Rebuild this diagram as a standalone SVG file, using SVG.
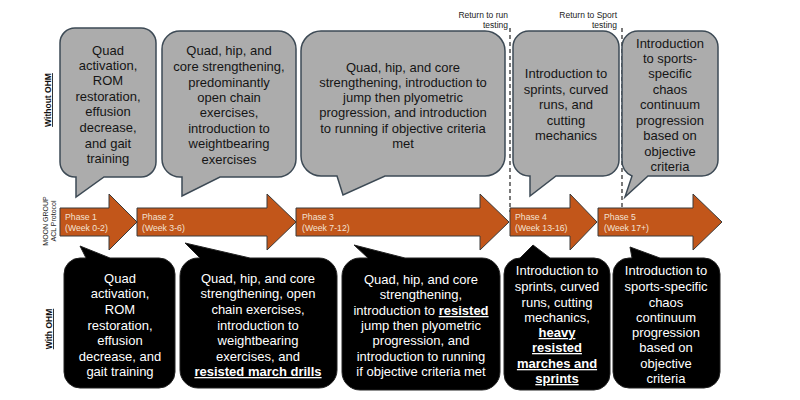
<svg xmlns="http://www.w3.org/2000/svg" width="800" height="400" viewBox="0 0 800 400">
<style>
.top{fill:#ACACAC;stroke:#3D4A55;stroke-width:1.5}
.bot{fill:#000;stroke:#222;stroke-width:1}
.arr{fill:#C2561A;stroke:#3A3A3A;stroke-width:1}
.tt{font-family:"Liberation Sans",Arial,sans-serif;font-size:13px;fill:#151515;text-anchor:middle}
.bt{font-family:"Liberation Sans",Arial,sans-serif;font-size:13px;fill:#fff;text-anchor:middle}
.b{font-weight:bold;text-decoration:underline}
.pt{font-family:"Liberation Sans",Arial,sans-serif;font-size:8.7px;fill:#F4E2D4}
.lab{font-family:"Liberation Sans",Arial,sans-serif;font-size:8.5px;fill:#222}
.side{font-family:"Liberation Sans",Arial,sans-serif;font-size:8.5px;font-weight:bold;text-decoration:underline;fill:#111;text-anchor:middle}
.moon{font-family:"Liberation Sans",Arial,sans-serif;font-size:7px;fill:#222;text-anchor:middle}
.dash{stroke:#333;stroke-width:1.3;stroke-dasharray:4 3;fill:none}
</style>
<rect width="800" height="400" fill="#fff"/>

<g id="side-labels">
<text class="side" transform="translate(51,100) rotate(-90)">Without OHM</text>
<text class="moon" transform="translate(48,221) rotate(-90)">MOON GROUP</text>
<text class="moon" transform="translate(56,221) rotate(-90)">ACL Protocol</text>
<text class="side" transform="translate(52,329) rotate(-90)">With OHM</text>
</g>

<g id="connectors">
<line class="dash" x1="510" y1="28" x2="510" y2="212"/>
<line class="dash" x1="622" y1="28" x2="622" y2="208"/>
<text class="lab" x="508" y="18" text-anchor="end">Return to run</text>
<text class="lab" x="508" y="28" text-anchor="end">testing</text>
<text class="lab" x="617" y="18" text-anchor="end">Return to Sport</text>
<text class="lab" x="617" y="28" text-anchor="end">testing</text>
</g>

<g id="top1">
<path class="top" d="M75,28 H141 A15,15 0 0 1 156,43 V162 A15,15 0 0 1 141,177 H104 L76,197 V177 H75 A15,15 0 0 1 60,162 V43 A15,15 0 0 1 75,28 Z"/>
<text class="tt"><tspan x="108" y="55">Quad</tspan><tspan x="108" y="70">activation,</tspan><tspan x="108" y="85">ROM</tspan><tspan x="108" y="101">restoration,</tspan><tspan x="108" y="116">effusion</tspan><tspan x="108" y="132">decrease,</tspan><tspan x="108" y="148">and gait</tspan><tspan x="108" y="163">training</tspan></text>
</g>
<g id="top2">
<path class="top" d="M180,31 H278 A18,18 0 0 1 296,49 V159 A18,18 0 0 1 278,177 H220 L182,196 V177 H180 A18,18 0 0 1 162,159 V49 A18,18 0 0 1 180,31 Z"/>
<text class="tt"><tspan x="229" y="55">Quad, hip, and</tspan><tspan x="229" y="71">core strengthening,</tspan><tspan x="229" y="87">predominantly</tspan><tspan x="229" y="102">open chain</tspan><tspan x="229" y="117">exercises,</tspan><tspan x="229" y="133">introduction to</tspan><tspan x="229" y="148">weightbearing</tspan><tspan x="229" y="164">exercises</tspan></text>
</g>
<g id="top3">
<path class="top" d="M321,31 H485 A20,20 0 0 1 505,51 V156 A20,20 0 0 1 485,176 H385 L343,195 L337,176 H321 A20,20 0 0 1 301,156 V51 A20,20 0 0 1 321,31 Z"/>
<text class="tt"><tspan x="403" y="72">Quad, hip, and core</tspan><tspan x="403" y="87">strengthening, introduction to</tspan><tspan x="403" y="102">jump then plyometric</tspan><tspan x="403" y="117">progression, and introduction</tspan><tspan x="403" y="133">to running if objective criteria</tspan><tspan x="403" y="148">met</tspan></text>
</g>
<g id="top4">
<path class="top" d="M529,31 H603 A16,16 0 0 1 619,47 V160 A16,16 0 0 1 603,176 H556 L530,196 V176 H529 A16,16 0 0 1 513,160 V47 A16,16 0 0 1 529,31 Z"/>
<text class="tt"><tspan x="566" y="78">Introduction to</tspan><tspan x="566" y="94">sprints, curved</tspan><tspan x="566" y="109">runs, and</tspan><tspan x="566" y="125">cutting</tspan><tspan x="566" y="140">mechanics</tspan></text>
</g>
<g id="top5">
<path class="top" d="M638,31 H702 A16,16 0 0 1 718,47 V160 A16,16 0 0 1 702,176 H648 L625,197 L632,176 A16,16 0 0 1 622,160 V47 A16,16 0 0 1 638,31 Z"/>
<text class="tt"><tspan x="670" y="48">Introduction</tspan><tspan x="670" y="63">to sports-</tspan><tspan x="670" y="78">specific</tspan><tspan x="670" y="94">chaos</tspan><tspan x="670" y="109">continuum</tspan><tspan x="670" y="125">progression</tspan><tspan x="670" y="140">based on</tspan><tspan x="670" y="156">objective</tspan><tspan x="670" y="171">criteria</tspan></text>
</g>

<g id="phase1">
<path class="arr" d="M60,208 H109 V194 L137,222 L109,250 V236 H60 Z"/>
<text class="pt"><tspan x="65" y="220">Phase 1</tspan><tspan x="65" y="231">(Week 0-2)</tspan></text>
</g>
<g id="phase2">
<path class="arr" d="M137,208 H267 V194 L296,222 L267,250 V236 H137 Z"/>
<text class="pt"><tspan x="142" y="220">Phase 2</tspan><tspan x="142" y="231">(Week 3-6)</tspan></text>
</g>
<g id="phase3">
<path class="arr" d="M296,208 H480 V194 L509,222 L480,250 V236 H296 Z"/>
<text class="pt"><tspan x="302" y="220">Phase 3</tspan><tspan x="302" y="231">(Week 7-12)</tspan></text>
</g>
<g id="phase4">
<path class="arr" d="M510,208 H570 V194 L597,222 L570,250 V236 H510 Z"/>
<text class="pt"><tspan x="515" y="220">Phase 4</tspan><tspan x="515" y="231">(Week 13-16)</tspan></text>
</g>
<g id="phase5">
<path class="arr" d="M598,208 H693 V194 L722,222 L693,250 V236 H598 Z"/>
<text class="pt"><tspan x="604" y="220">Phase 5</tspan><tspan x="604" y="231">(Week 17+)</tspan></text>
</g>

<g id="bot1">
<path class="bot" d="M80,258 H86 L80,246 L110,258 H159 A16,16 0 0 1 175,274 V372 A16,16 0 0 1 159,388 H80 A16,16 0 0 1 64,372 V274 A16,16 0 0 1 80,258 Z"/>
<text class="bt"><tspan x="120" y="283">Quad</tspan><tspan x="120" y="298">activation,</tspan><tspan x="120" y="314">ROM</tspan><tspan x="120" y="330">restoration,</tspan><tspan x="120" y="345">effusion</tspan><tspan x="120" y="361">decrease, and</tspan><tspan x="120" y="376">gait training</tspan></text>
</g>
<g id="bot2">
<path class="bot" d="M198,258 H200 L185,243 L250,258 H319 A18,18 0 0 1 337,276 V370 A18,18 0 0 1 319,388 H198 A18,18 0 0 1 180,370 V276 A18,18 0 0 1 198,258 Z"/>
<text class="bt"><tspan x="258" y="283">Quad, hip, and core</tspan><tspan x="258" y="298">strengthening, open</tspan><tspan x="258" y="314">chain exercises,</tspan><tspan x="258" y="330">introduction to</tspan><tspan x="258" y="345">weightbearing</tspan><tspan x="258" y="361">exercises, and</tspan><tspan x="258" y="376" class="b">resisted march drills</tspan></text>
</g>
<g id="bot3">
<path class="bot" d="M360,258 H368 L354,245 L405,258 H482 A18,18 0 0 1 500,276 V372 A18,18 0 0 1 482,390 H360 A18,18 0 0 1 342,372 V276 A18,18 0 0 1 360,258 Z"/>
<text class="bt"><tspan x="421" y="284">Quad, hip, and core</tspan><tspan x="421" y="299">strengthening,</tspan><tspan x="421" y="315">introduction to <tspan class="b">resisted</tspan></tspan><tspan x="421" y="330">jump then plyometric</tspan><tspan x="421" y="345">progression, and</tspan><tspan x="421" y="361">introduction to running</tspan><tspan x="421" y="376">if objective criteria met</tspan></text>
</g>
<g id="bot4">
<path class="bot" d="M520,258 L533,245 L550,258 H594 A16,16 0 0 1 610,274 V374 A16,16 0 0 1 594,390 H520 A16,16 0 0 1 504,374 V274 A16,16 0 0 1 520,258 Z"/>
<text class="bt"><tspan x="557" y="275">Introduction to</tspan><tspan x="557" y="291">sprints, curved</tspan><tspan x="557" y="307">runs, cutting</tspan><tspan x="557" y="322">mechanics,</tspan><tspan x="557" y="337" class="b">heavy</tspan><tspan x="557" y="352" class="b">resisted</tspan><tspan x="557" y="368" class="b">marches and</tspan><tspan x="557" y="383" class="b">sprints</tspan></text>
</g>
<g id="bot5">
<path class="bot" d="M629,258 H632 L630,247 L660,258 H704 A16,16 0 0 1 720,274 V372 A16,16 0 0 1 704,388 H629 A16,16 0 0 1 613,372 V274 A16,16 0 0 1 629,258 Z"/>
<text class="bt"><tspan x="666" y="275">Introduction to</tspan><tspan x="666" y="291">sports-specific</tspan><tspan x="666" y="307">chaos</tspan><tspan x="666" y="322">continuum</tspan><tspan x="666" y="337">progression</tspan><tspan x="666" y="352">based on</tspan><tspan x="666" y="368">objective</tspan><tspan x="666" y="383">criteria</tspan></text>
</g>
</svg>
